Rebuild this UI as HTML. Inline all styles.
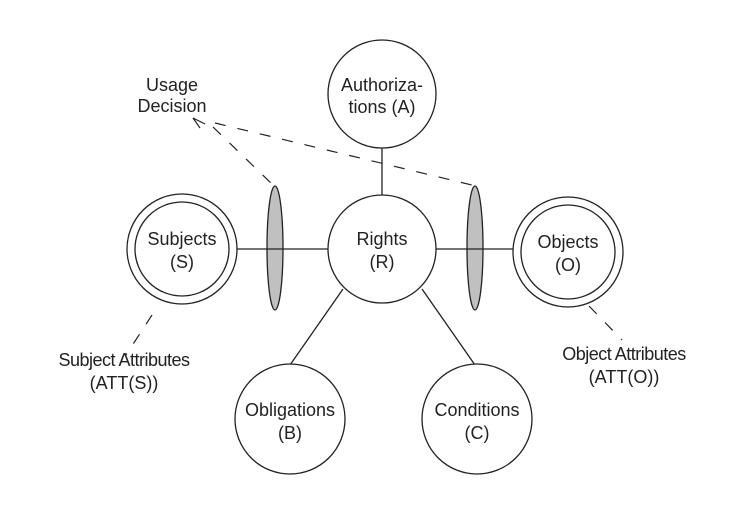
<!DOCTYPE html>
<html><head><meta charset="utf-8"><style>
html,body{margin:0;padding:0;background:#fff;}
svg text{font-family:"Liberation Sans",sans-serif;font-size:18px;fill:#222;text-anchor:middle;}
</style></head><body>
<svg width="748" height="510" viewBox="0 0 748 510" xmlns="http://www.w3.org/2000/svg">
<g stroke="#222" stroke-width="1.3" fill="none">
<line x1="382" y1="148" x2="382" y2="195"/>
<line x1="343" y1="289" x2="290" y2="365"/>
<line x1="422" y1="289" x2="475" y2="365"/>
<circle cx="382" cy="94" r="54" fill="#fff"/>
<circle cx="382" cy="249" r="54" fill="#fff"/>
<circle cx="182" cy="249" r="55" fill="#fff"/>
<circle cx="182" cy="249" r="47"/>
<circle cx="568" cy="252" r="55" fill="#fff"/>
<circle cx="568" cy="252" r="47"/>
<circle cx="290" cy="419" r="55" fill="#fff"/>
<circle cx="477" cy="419" r="55" fill="#fff"/>
<ellipse cx="275" cy="248" rx="8" ry="62" fill="#c0c0c0"/>
<ellipse cx="475" cy="248" rx="8" ry="62" fill="#c0c0c0"/>
</g>
<line x1="237" y1="249" x2="328" y2="249" stroke="#222" stroke-width="1.3"/>
<line x1="436" y1="249" x2="513" y2="249" stroke="#222" stroke-width="1.3"/>
<g stroke="#222" stroke-width="1.2" fill="none" stroke-dasharray="11,12">
<line x1="213" y1="127" x2="274" y2="186"/>
<line x1="215" y1="123" x2="476" y2="186"/>
<line x1="152" y1="315" x2="126" y2="355"/>
<line x1="589" y1="306" x2="622" y2="340"/>
</g>
<path d="M205,124 L193,118 L200,128" stroke="#222" stroke-width="1.2" fill="none"/>
<text x="382" y="91">Authoriza-</text>
<text x="382" y="113">tions (A)</text>
<text x="382" y="245">Rights</text>
<text x="382" y="268">(R)</text>
<text x="182" y="245">Subjects</text>
<text x="182" y="268">(S)</text>
<text x="568" y="248">Objects</text>
<text x="568" y="271">(O)</text>
<text x="290" y="416">Obligations</text>
<text x="290" y="439">(B)</text>
<text x="477" y="416">Conditions</text>
<text x="477" y="439">(C)</text>
<text x="172" y="91">Usage</text>
<text x="172" y="112">Decision</text>
<text x="124" y="366" style="letter-spacing:-0.5px">Subject Attributes</text>
<text x="124" y="389">(ATT(S))</text>
<text x="624" y="360" style="letter-spacing:-0.5px">Object Attributes</text>
<text x="624" y="383">(ATT(O))</text>
</svg>
</body></html>
